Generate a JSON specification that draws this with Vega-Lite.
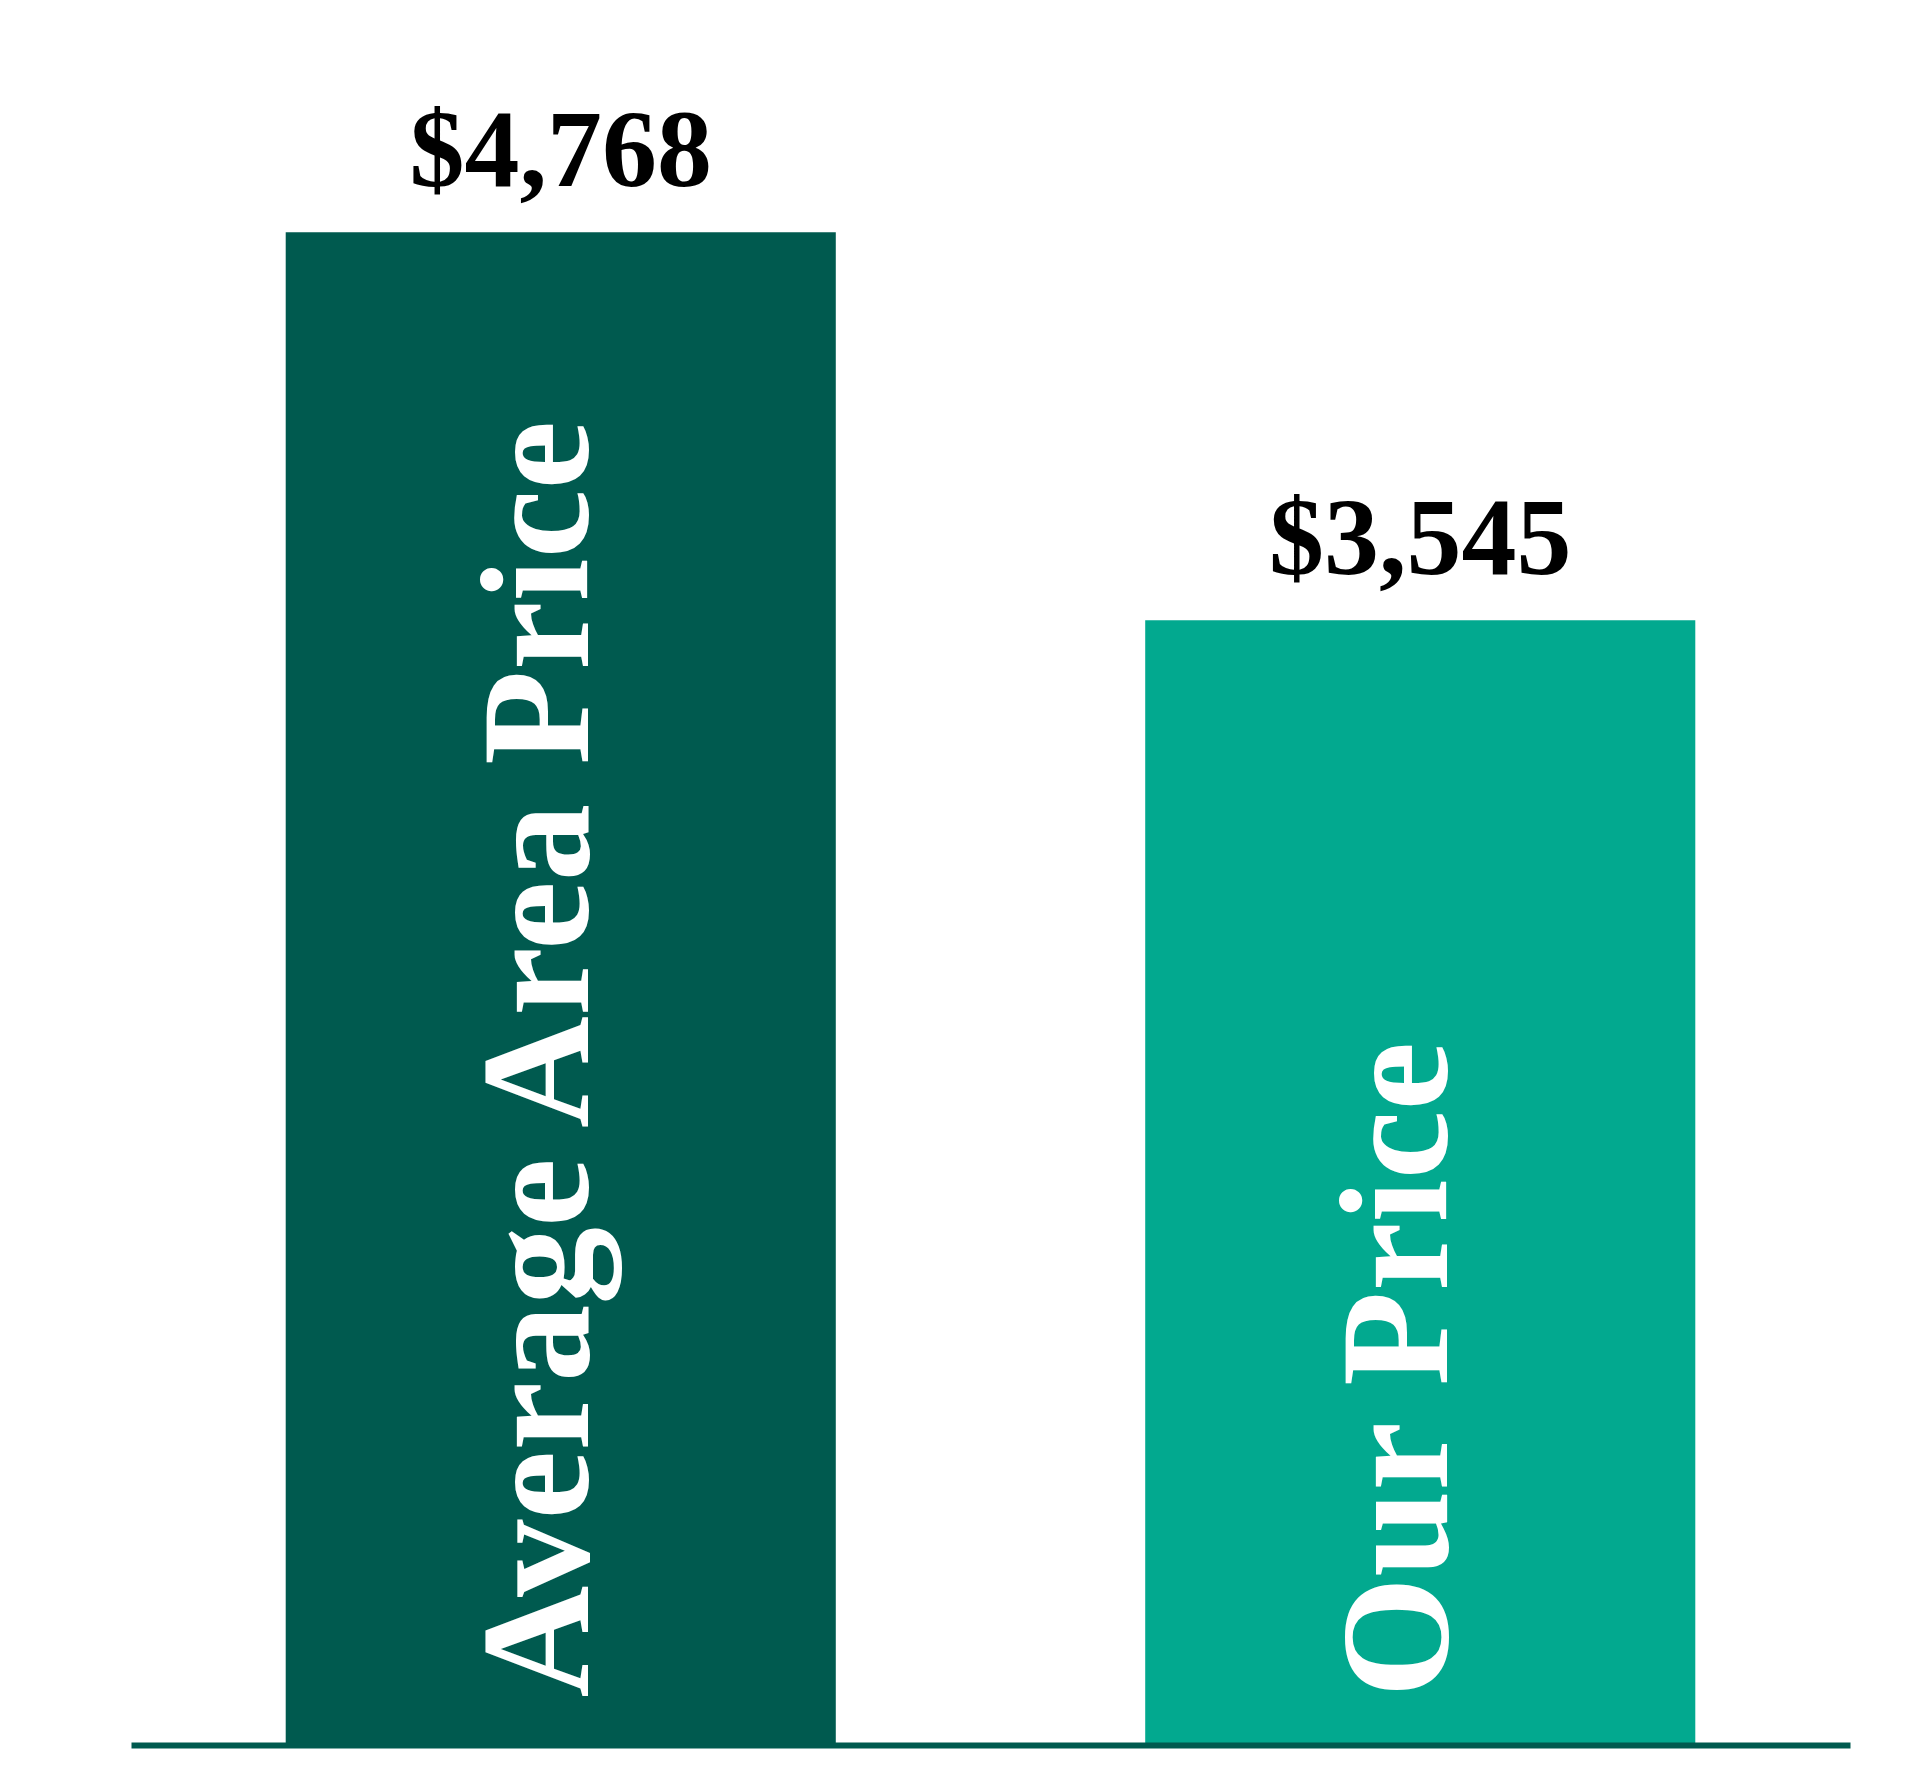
{
  "$schema": "https://vega.github.io/schema/vega-lite/v6.json",
  "description": "Average area price vs our price",
  "width": 1719,
  "height": 1745,
  "autosize": {"type": "none"},
  "padding": {"left": 131, "top": 0, "right": 70, "bottom": 47},
  "background": "white",
  "config": {"view": {"stroke": null}},
  "data": {
    "values": [
      {"label": "Average Area Price", "price": 4768},
      {"label": "Our Price", "price": 3545}
    ]
  },
  "encoding": {
    "x": {
      "field": "label",
      "type": "nominal",
      "sort": null,
      "scale": {"paddingInner": 0.36, "paddingOuter": 0.18},
      "axis": {
        "title": null,
        "labels": false,
        "ticks": false,
        "domainColor": "#005a4f",
        "domainWidth": 6,
        "domainCap": "butt",
        "zindex": 1
      }
    }
  },
  "layer": [
    {
      "mark": {"type": "bar"},
      "encoding": {
        "y": {
          "field": "price",
          "type": "quantitative",
          "scale": {"domain": [0, 5500], "nice": false},
          "axis": null
        },
        "color": {
          "field": "label",
          "type": "nominal",
          "scale": {"range": ["#005a4f", "#02a98f"]},
          "legend": null
        }
      }
    },
    {
      "mark": {
        "type": "text",
        "font": "Liberation Serif",
        "fontWeight": "bold",
        "fontSize": 110,
        "baseline": "alphabetic",
        "dy": -46,
        "color": "black"
      },
      "encoding": {
        "y": {"field": "price", "type": "quantitative"},
        "text": {"field": "price", "type": "quantitative", "format": "$,.0f"}
      }
    },
    {
      "mark": {
        "type": "text",
        "font": "Liberation Serif",
        "fontWeight": "bold",
        "fontSize": 155,
        "angle": 270,
        "align": "left",
        "baseline": "middle",
        "dy": -20,
        "color": "white"
      },
      "encoding": {
        "y": {"datum": 150},
        "text": {"field": "label"}
      }
    }
  ]
}
